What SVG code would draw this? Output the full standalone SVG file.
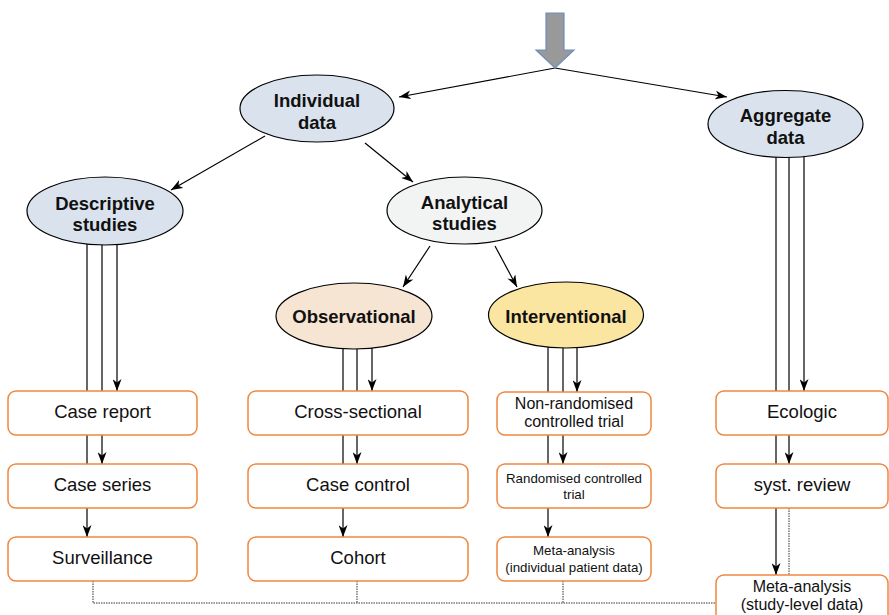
<svg xmlns="http://www.w3.org/2000/svg" width="889" height="615" viewBox="0 0 889 615">
<style>
.bg{fill:#ffffff}
.e{stroke:#000;stroke-width:1.2}
.blue{fill:#dae3ed}
.grey{fill:#f2f4f3}
.peach{fill:#f7e5d3}
.yel{fill:#fbe6a1}
.b{fill:#ffffff;stroke:#ee8840;stroke-width:1.5}
.c{fill:none;stroke:#000;stroke-width:1.2}
.d{fill:none;stroke:#333;stroke-width:1;stroke-dasharray:1.5 1}
text{font-family:"Liberation Sans",Arial,Helvetica,sans-serif;fill:#111;text-anchor:middle}
.tb{font-weight:bold;font-size:18.5px}
.t{font-size:18.5px}
.t16{font-size:16px}
.t13{font-size:13.3px}
</style>
<defs>
<marker id="ah" viewBox="0 0 12 9" refX="12" refY="4.5" markerWidth="12" markerHeight="9" markerUnits="userSpaceOnUse" orient="auto">
<path d="M0,0 L12,4.5 L0,9 L3.5,4.5 z" fill="#000"/>
</marker>
</defs>
<rect class="bg" x="0" y="0" width="889" height="615"/>
<g id="connectors">
<path class="c" d="M555,68 L399,97" marker-end="url(#ah)"/>
<path class="c" d="M555,68 L727,97" marker-end="url(#ah)"/>
<path class="c" d="M265,136 L171,190" marker-end="url(#ah)"/>
<path class="c" d="M365,143 L413,182" marker-end="url(#ah)"/>
<path class="c" d="M430,246 L403,287" marker-end="url(#ah)"/>
<path class="c" d="M495,246 L517,287" marker-end="url(#ah)"/>
<path class="c" d="M87,211 V537" marker-end="url(#ah)"/>
<path class="c" d="M102,211 V464" marker-end="url(#ah)"/>
<path class="c" d="M117,211 V391" marker-end="url(#ah)"/>
<path class="c" d="M343,316 V537" marker-end="url(#ah)"/>
<path class="c" d="M357,316 V464" marker-end="url(#ah)"/>
<path class="c" d="M372,316 V391" marker-end="url(#ah)"/>
<path class="c" d="M548,315 V537" marker-end="url(#ah)"/>
<path class="c" d="M563,315 V464" marker-end="url(#ah)"/>
<path class="c" d="M577,315 V392" marker-end="url(#ah)"/>
<path class="c" d="M776,124 V575" marker-end="url(#ah)"/>
<path class="c" d="M789,124 V464" marker-end="url(#ah)"/>
<path class="c" d="M804,124 V391" marker-end="url(#ah)"/>
<path class="d" d="M93,581 V603 H716"/>
<path class="d" d="M357,581 V603"/>
<path class="d" d="M563,581 V603"/>
<path class="d" d="M789,508 V575"/>
</g>
<g id="start-arrow">
<polygon points="546,13 564,13 564,50 574,50 555,68 536,50 546,50" fill="#999999" stroke="#6c8ebf" stroke-width="1.2"/>
</g>
<g id="individual-data">
<ellipse class="e blue" cx="317" cy="108.5" rx="77" ry="33.5"/>
<text class="tb" x="317" y="107">Individual</text>
<text class="tb" x="317" y="129">data</text>
</g>
<g id="aggregate-data">
<ellipse class="e blue" cx="785.5" cy="124" rx="77.5" ry="33.5"/>
<text class="tb" x="785.5" y="122">Aggregate</text>
<text class="tb" x="785.5" y="144">data</text>
</g>
<g id="descriptive-studies">
<ellipse class="e blue" cx="105" cy="211" rx="78" ry="34"/>
<text class="tb" x="105" y="210">Descriptive</text>
<text class="tb" x="105" y="231">studies</text>
</g>
<g id="analytical-studies">
<ellipse class="e grey" cx="464.5" cy="210.5" rx="77.5" ry="33.5"/>
<text class="tb" x="464.5" y="208.5">Analytical</text>
<text class="tb" x="464.5" y="229.5">studies</text>
</g>
<g id="observational">
<ellipse class="e peach" cx="354" cy="316" rx="78" ry="33"/>
<text class="tb" x="354" y="323">Observational</text>
</g>
<g id="interventional">
<ellipse class="e yel" cx="566" cy="315" rx="77.5" ry="33"/>
<text class="tb" x="566" y="323">Interventional</text>
</g>
<g id="case-report">
<rect class="b" x="8" y="391" width="189" height="44" rx="8"/>
<text class="t" x="102.5" y="418">Case report</text>
</g>
<g id="case-series">
<rect class="b" x="8" y="464" width="189" height="44" rx="8"/>
<text class="t" x="102.5" y="491">Case series</text>
</g>
<g id="surveillance">
<rect class="b" x="8" y="537" width="189" height="44" rx="8"/>
<text class="t" x="102.5" y="564">Surveillance</text>
</g>
<g id="cross-sectional">
<rect class="b" x="248" y="391" width="220" height="44" rx="8"/>
<text class="t" x="358" y="418">Cross-sectional</text>
</g>
<g id="case-control">
<rect class="b" x="248" y="464" width="220" height="44" rx="8"/>
<text class="t" x="358" y="491">Case control</text>
</g>
<g id="cohort">
<rect class="b" x="248" y="537" width="220" height="44" rx="8"/>
<text class="t" x="358" y="564">Cohort</text>
</g>
<g id="non-randomised">
<rect class="b" x="497" y="392" width="154" height="43" rx="8"/>
<text class="t16" x="574" y="409">Non-randomised</text>
<text class="t16" x="574" y="427">controlled trial</text>
</g>
<g id="randomised">
<rect class="b" x="497" y="464" width="154" height="44" rx="8"/>
<text class="t13" x="574" y="483">Randomised controlled</text>
<text class="t13" x="574" y="499">trial</text>
</g>
<g id="meta-ipd">
<rect class="b" x="497" y="537" width="154" height="44" rx="8"/>
<text class="t13" x="574" y="555">Meta-analysis</text>
<text class="t13" x="574" y="572">(individual patient data)</text>
</g>
<g id="ecologic">
<rect class="b" x="716" y="391" width="172" height="44" rx="8"/>
<text class="t" x="802" y="418">Ecologic</text>
</g>
<g id="syst-review">
<rect class="b" x="716" y="464" width="172" height="44" rx="8"/>
<text class="t" x="802" y="491">syst. review</text>
</g>
<g id="meta-study">
<rect class="b" x="716" y="575" width="172" height="50" rx="8"/>
<text class="t16" x="802" y="592">Meta-analysis</text>
<text class="t16" x="802" y="610">(study-level data)</text>
</g>
</svg>
